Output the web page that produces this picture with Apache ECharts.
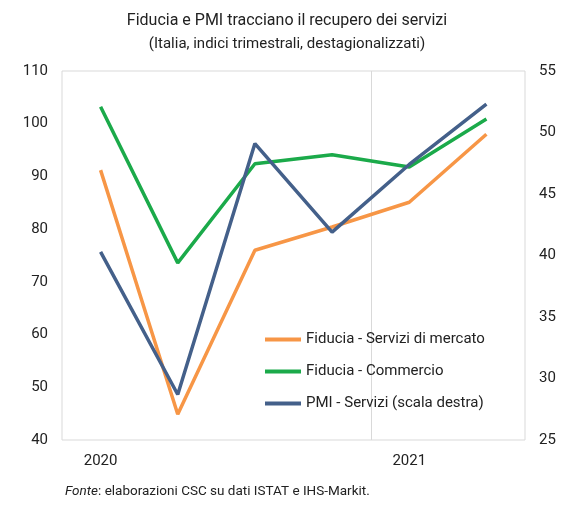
<!DOCTYPE html>
<html><head><meta charset="utf-8">
<script src="https://cdn.jsdelivr.net/npm/echarts@6/dist/echarts.min.js"></script>
<style>html,body{margin:0;padding:0;background:#fff}#c{width:574px;height:506px}</style>
</head><body><div id="c"></div>
<script>
const categories = ['2020 T1','2020 T2','2020 T3','2020 T4','2021 T1','2021 T2'];
const yearLabels = {0:'2020',4:'2021'};
const fiduciaServizi = [91.2, 44.9, 76.0, 80.4, 85.1, 98.0];
const fiduciaCommercio = [103.2, 73.6, 92.4, 94.1, 91.8, 100.9];
const pmiServizi = [40.3, 28.7, 49.1, 41.9, 47.4, 52.3];
const leftTicks = [40,110,10];
const rightTicks = [25,55,5];
const chart = echarts.init(document.getElementById('c'));
const font = 'Roboto';
chart.setOption({
  animation:false,
  textStyle:{fontFamily:font},
  title:[{text:'Fiducia e PMI tracciano il recupero dei servizi',left:'center',top:8,textStyle:{fontSize:16,fontWeight:'normal',color:'#222'}},
         {text:'(Italia, indici trimestrali, destagionalizzati)',left:'center',top:32,textStyle:{fontSize:15,fontWeight:'normal',color:'#222'}},
         {text:'{i|Fonte}: elaborazioni CSC su dati ISTAT e IHS-Markit.',left:60,top:480,textStyle:{fontSize:13.5,fontWeight:'normal',color:'#222',rich:{i:{fontStyle:'italic',fontSize:13.5,color:'#222'}}}}],
  grid:{left:62,right:49,top:71,bottom:66,show:true,borderColor:'#d9d9d9',borderWidth:1},
  legend:{orient:'vertical',left:260,top:327,itemGap:17,itemWidth:36,itemHeight:4,icon:'rect',textStyle:{fontSize:15,color:'#222'},
    data:['Fiducia - Servizi di mercato','Fiducia - Commercio','PMI - Servizi (scala destra)']},
  xAxis:{type:'category',data:categories,boundaryGap:true,axisLine:{show:false},axisTick:{show:false},
    axisLabel:{interval:0,fontSize:15,color:'#222',margin:14,formatter:(v,i)=>yearLabels[i]||''},
    splitLine:{show:false}},
  yAxis:[{type:'value',min:leftTicks[0],max:leftTicks[1],interval:leftTicks[2],axisLine:{show:false},axisTick:{show:false},splitLine:{show:false},axisLabel:{fontSize:15,color:'#222',margin:14}},
         {type:'value',min:rightTicks[0],max:rightTicks[1],interval:rightTicks[2],axisLine:{show:false},axisTick:{show:false},splitLine:{show:false},axisLabel:{fontSize:15,color:'#222',margin:14}}],
  series:[
    {name:'Fiducia - Servizi di mercato',type:'line',data:fiduciaServizi,symbol:'none',lineStyle:{width:3.5,color:'#F79646'},itemStyle:{color:'#F79646'}},
    {name:'Fiducia - Commercio',type:'line',data:fiduciaCommercio,symbol:'none',lineStyle:{width:3.5,color:'#1BAA4A'},itemStyle:{color:'#1BAA4A'}},
    {name:'PMI - Servizi (scala destra)',type:'line',yAxisIndex:1,data:pmiServizi,symbol:'none',lineStyle:{width:3.5,color:'#44608A'},itemStyle:{color:'#44608A'}}
  ]
});
const xa = chart.convertToPixel({xAxisIndex:0}, categories[3]);
const xb = chart.convertToPixel({xAxisIndex:0}, categories[4]);
const xm = Math.round((xa+xb)/2)+0.5;
const yt = chart.convertToPixel({yAxisIndex:0}, leftTicks[1]);
const yb = chart.convertToPixel({yAxisIndex:0}, leftTicks[0]);
chart.setOption({graphic:[{type:'line',z:-1,shape:{x1:xm,y1:yt,x2:xm,y2:yb},style:{stroke:'#d9d9d9',lineWidth:1}}]});
</script></body></html>
